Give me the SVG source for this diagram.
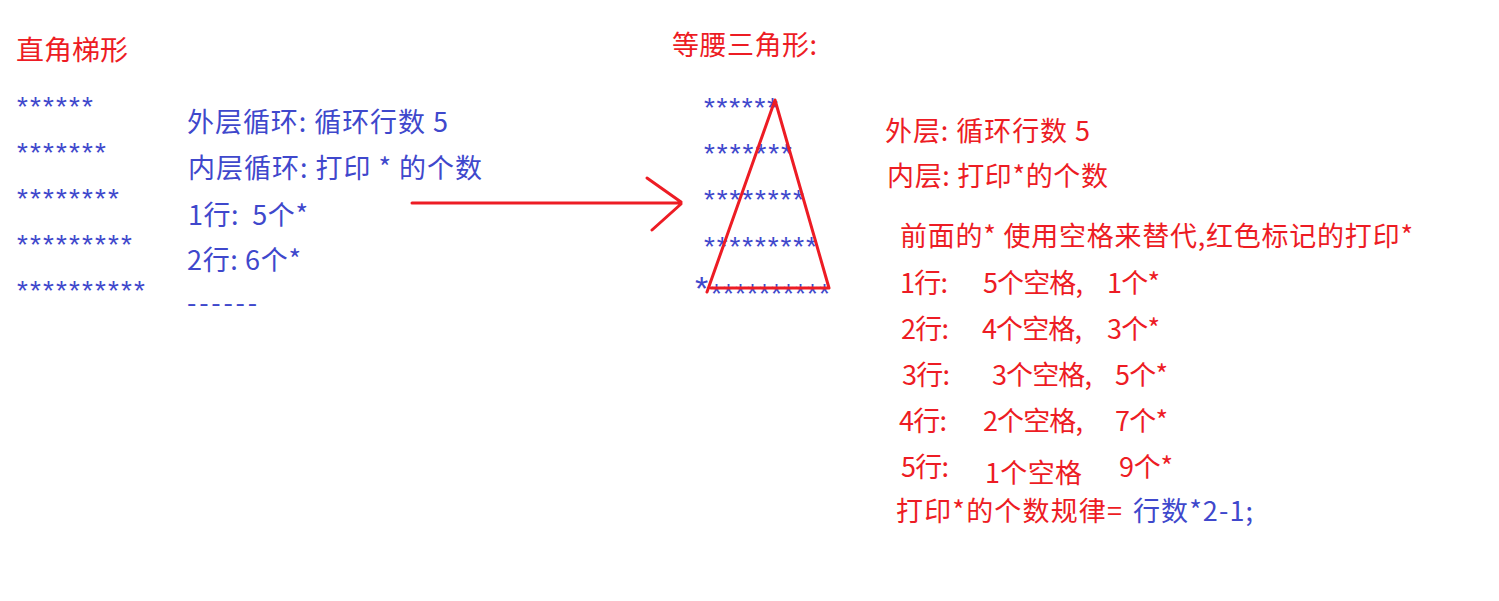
<svg xmlns="http://www.w3.org/2000/svg" width="1499" height="601" viewBox="0 0 1499 601">
<style>
text{font-family:"Noto Sans CJK SC","Noto Sans",sans-serif;font-size:27px}
.r{fill:#ed1c24}
.b{fill:#3f48cc}
.s{font-family:"Liberation Sans",Arial,sans-serif;font-size:28px;fill:#3f48cc}
.ln{stroke:#ed1c24;stroke-width:3;fill:none;stroke-linecap:round;stroke-linejoin:round}
</style>
<rect width="1499" height="601" fill="#ffffff"/>
<g id="left-title"><text class="r" x="16" y="60" textLength="112" lengthAdjust="spacingAndGlyphs">直角梯形</text></g>
<g id="left-stars">
<text class="s" x="17" y="116" textLength="76" lengthAdjust="spacing">******</text>
<text class="s" x="17" y="162" textLength="89" lengthAdjust="spacing">*******</text>
<text class="s" x="17" y="208" textLength="102" lengthAdjust="spacing">********</text>
<text class="s" x="17" y="254" textLength="115" lengthAdjust="spacing">*********</text>
<text class="s" x="17" y="300" textLength="128" lengthAdjust="spacing">**********</text>
</g>
<g id="left-notes">
<text class="b" x="187" y="132" textLength="261" lengthAdjust="spacing">外层循环: 循环行数 5</text>
<text class="b" x="188" y="178" textLength="294" lengthAdjust="spacing">内层循环: 打印 * 的个数</text>
<text class="b" x="188" y="225" textLength="120" lengthAdjust="spacing" xml:space="preserve">1行:  5个*</text>
<text class="b" x="187" y="270" textLength="114" lengthAdjust="spacing">2行: 6个*</text>
<text class="b" x="187" y="313" textLength="70" lengthAdjust="spacing">------</text>
</g>
<g id="connectors">
<path class="ln" d="M412,203 L681,203 M647,178 L681,202 M652,230 L681,204"/>
</g>
<g id="tri-title"><text class="r" x="672" y="55" textLength="145" lengthAdjust="spacing">等腰三角形:</text></g>
<g id="tri-stars">
<text class="s" x="704" y="117" textLength="74" lengthAdjust="spacing">******</text>
<text class="s" x="704" y="163" textLength="88" lengthAdjust="spacing">*******</text>
<text class="s" x="704" y="209" textLength="100" lengthAdjust="spacing">********</text>
<text class="s" x="704" y="256" textLength="113" lengthAdjust="spacing">*********</text>
<text class="s" x="695" y="300" style="font-size:34px">*</text>
<text class="s" x="711" y="303" textLength="119" lengthAdjust="spacing">**********</text>
</g>
<g id="triangle">
<path class="ln" d="M707,292 L775,100 L829,288 L711,288"/>
</g>
<g id="right-notes">
<text class="r" x="885" y="141" textLength="205" lengthAdjust="spacing">外层: 循环行数 5</text>
<text class="r" x="887" y="186" textLength="221" lengthAdjust="spacing">内层: 打印*的个数</text>
<text class="r" x="900" y="246" textLength="513" lengthAdjust="spacing">前面的* 使用空格来替代,红色标记的打印*</text>
<text class="r" x="900" y="293" textLength="48" lengthAdjust="spacing">1行:</text>
<text class="r" x="983" y="293" textLength="100" lengthAdjust="spacing">5个空格,</text>
<text class="r" x="1107" y="293" textLength="53" lengthAdjust="spacing">1个*</text>
<text class="r" x="901" y="339" textLength="48" lengthAdjust="spacing">2行:</text>
<text class="r" x="982" y="339" textLength="100" lengthAdjust="spacing">4个空格,</text>
<text class="r" x="1107" y="339" textLength="53" lengthAdjust="spacing">3个*</text>
<text class="r" x="902" y="385" textLength="48" lengthAdjust="spacing">3行:</text>
<text class="r" x="992" y="385" textLength="100" lengthAdjust="spacing">3个空格,</text>
<text class="r" x="1115" y="385" textLength="53" lengthAdjust="spacing">5个*</text>
<text class="r" x="899" y="431" textLength="48" lengthAdjust="spacing">4行:</text>
<text class="r" x="983" y="431" textLength="100" lengthAdjust="spacing">2个空格,</text>
<text class="r" x="1115" y="431" textLength="53" lengthAdjust="spacing">7个*</text>
<text class="r" x="901" y="477" textLength="48" lengthAdjust="spacing">5行:</text>
<text class="r" x="985" y="483" textLength="97" lengthAdjust="spacing">1个空格</text>
<text class="r" x="1119" y="477" textLength="54" lengthAdjust="spacing">9个*</text>
<text class="r" x="896" y="521" textLength="226" lengthAdjust="spacing">打印*的个数规律=</text>
<text class="b" x="1133" y="521" textLength="120" lengthAdjust="spacing">行数*2-1;</text>
</g>
</svg>
